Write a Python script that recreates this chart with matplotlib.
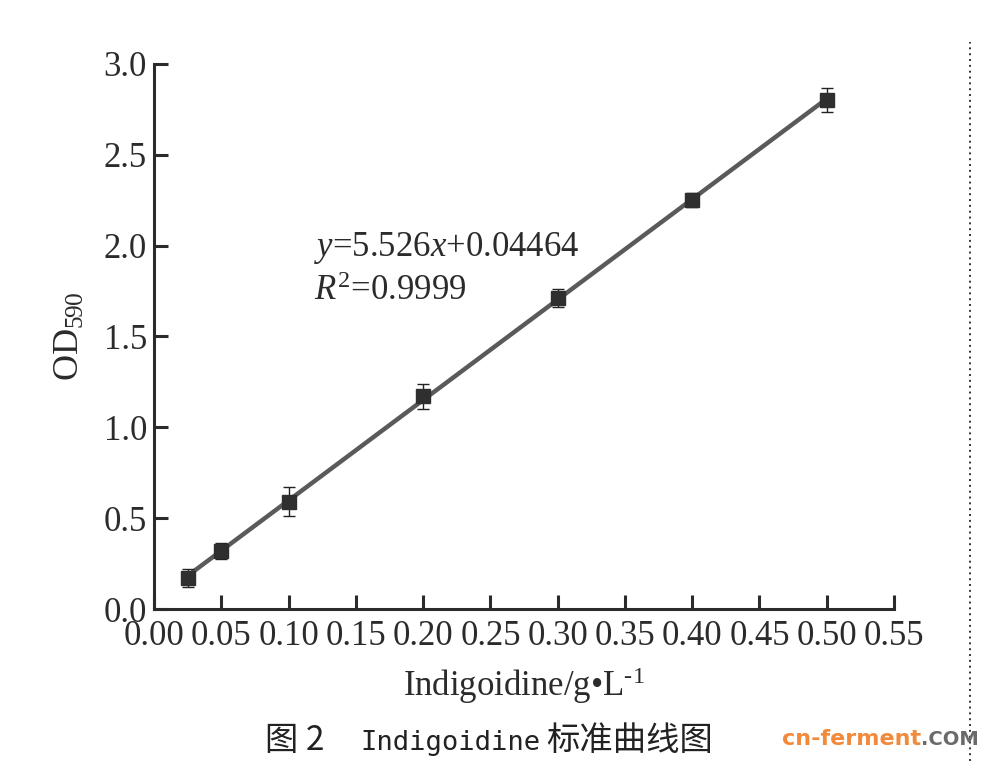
import matplotlib

matplotlib.use("Agg")
import matplotlib.pyplot as plt
import numpy as np

# concentration (g/L), OD590 and standard deviation
conc = [0.025, 0.05, 0.10, 0.20, 0.30, 0.40, 0.50]
od590 = [0.17, 0.32, 0.59, 1.17, 1.71, 2.25, 2.80]
od_err = [0.05, 0.045, 0.08, 0.07, 0.05, 0.04, 0.065]

slope = 5.526
intercept = 0.04464

x_ticks = [0.00, 0.05, 0.10, 0.15, 0.20, 0.25, 0.30, 0.35, 0.40, 0.45, 0.50, 0.55]
y_ticks = [0.0, 0.5, 1.0, 1.5, 2.0, 2.5, 3.0]

SERIF = "Liberation Serif"
DARK = "#2b2b2b"
CJK = ["Noto Sans CJK SC", "DejaVu Sans"]

plt.rcParams["mathtext.fontset"] = "custom"
plt.rcParams["mathtext.rm"] = SERIF
plt.rcParams["mathtext.it"] = SERIF + ":italic"
plt.rcParams["mathtext.bf"] = SERIF + ":bold"
plt.rcParams["font.family"] = SERIF

fig = plt.figure(figsize=(9.88, 7.61), dpi=100)
ax = fig.add_axes([0.1559, 0.1997, 0.749, 0.7165])

fit_x = np.array([conc[0], conc[-1]])
ax.plot(fit_x, slope * fit_x + intercept, color="#5a5a5a", lw=3.2, zorder=2)
ax.errorbar(conc, od590, yerr=od_err, fmt="s", ms=10, color="#2f2f2f",
            ecolor="#222222", elinewidth=1.0, capsize=4.5, capthick=1.0, zorder=3)

ax.set_xlim(0, 0.55)
ax.set_ylim(0, 3.0)
ax.set_xticks(x_ticks)
ax.set_xticklabels([f"{t:.2f}" for t in x_ticks])
ax.set_yticks(y_ticks)
ax.set_yticklabels([f"{t:.1f}" for t in y_ticks])

for side in ("top", "right"):
    ax.spines[side].set_visible(False)
for side in ("left", "bottom"):
    ax.spines[side].set_linewidth(2.2)
    ax.spines[side].set_color(DARK)

ax.tick_params(direction="in", length=10, width=2.2, color=DARK, pad=5,
               labelsize=25, labelcolor=DARK)
ax.tick_params(axis="x", pad=8)

ax.set_xlabel("Indigoidine/g\u2022L$^{\\text{-1}}$", fontsize=25,
              color=DARK, labelpad=9)
ax.set_ylabel("OD$_{\\mathrm{590}}$", fontsize=26, color=DARK, labelpad=12)

ax.text(0.119, 1.985, r"$\mathit{y}$=5.526$\mathit{x}$+0.04464", fontsize=25,
        color=DARK, va="center")
ax.text(0.119, 1.745, r"$\mathit{R}^{\mathrm{2}}$=0.9999", fontsize=25,
        color=DARK, va="center")

# caption: CJK parts and a monospaced Latin word
cap_y = 0.015
fig.text(265 / 988, cap_y, "图 2", fontsize=24, family=CJK,
         color="#222222", va="baseline")
fig.text(360 / 988, cap_y, "Indigoidine", fontsize=19.5,
         family=["DejaVu Sans Mono"], color="#222222", va="baseline")
fig.text(546 / 988, cap_y, "标准曲线图", fontsize=24, family=CJK,
         color="#222222", va="baseline")

wm_y = 0.021
wm = fig.text(0.791, wm_y, "cn-ferment", fontsize=16, weight="bold",
              family="DejaVu Sans", color="#f28a3c", va="baseline")
fig.canvas.draw()
bb = wm.get_window_extent().transformed(fig.transFigure.inverted())
fig.text(bb.x1, wm_y, ".COM", fontsize=14, weight="bold",
         family="DejaVu Sans", color="#6a6a6a", va="baseline")

fig.add_artist(plt.Line2D([0.982, 0.982], [0.0, 0.945], transform=fig.transFigure,
                          color="#333333", lw=1.4, ls=(0, (1, 2))))

fig.savefig("out.png", dpi=100)
